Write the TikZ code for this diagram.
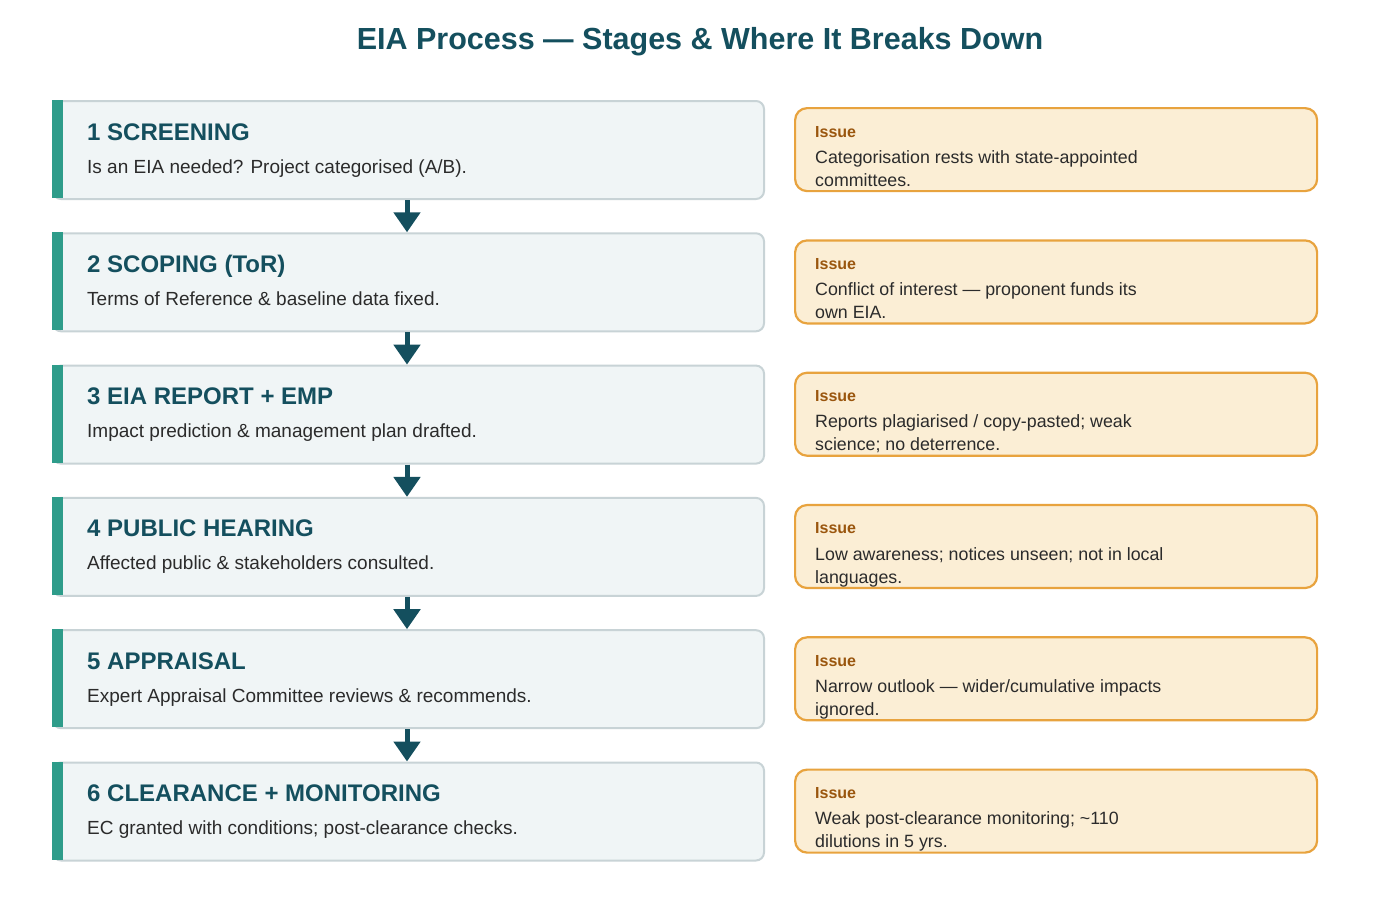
\documentclass[tikz,border=0pt]{standalone}
\usepackage{fontspec}
\setmainfont{Liberation Sans}
\usetikzlibrary{arrows.meta}
\definecolor{teal}{HTML}{144F5E}
\definecolor{bar}{HTML}{2E9C8A}
\definecolor{sfill}{HTML}{F0F5F6}
\definecolor{sbord}{HTML}{C8D3D6}
\definecolor{ifill}{HTML}{FBEED5}
\definecolor{ibord}{HTML}{E8A33E}
\definecolor{ilab}{HTML}{9A560E}
\definecolor{txt}{HTML}{2B2B2B}
\tikzset{
 stage/.style={draw=sbord,line width=2pt,fill=sfill,rounded corners=8pt,minimum width=711pt,minimum height=98pt,anchor=north west,inner sep=0pt},
 issue/.style={draw=ibord,line width=2.2pt,fill=ifill,rounded corners=12pt,minimum width=522pt,minimum height=83pt,anchor=north west,inner sep=0pt},
 head/.style={anchor=base west,text=teal,font=\fontsize{24}{28}\selectfont\bfseries,inner sep=0pt},
 sub/.style={anchor=base west,text=txt,font=\fontsize{19}{22}\selectfont,inner sep=0pt},
 ilabel/.style={anchor=base west,text=ilab,font=\fontsize{16}{19}\selectfont\bfseries,inner sep=0pt},
 itext/.style={anchor=north west,text=txt,font=\fontsize{17.8}{23}\selectfont,inner sep=0pt,align=left},
 flow/.style={-{Triangle[length=20pt,width=26pt]},line width=5pt,draw=teal}
}
\newcommand\stagerow[5]{%
 \pgfmathsetmacro{\y}{100+132.3*(#1-1)}
 \node[stage] (s#1) at (52,\y) {};
 \fill[bar] (52,\y) rectangle (63,\y+98);
 \node[head] (h#1) at (87,\y+40) {#2};
 \node[sub] (d#1) at (87,\y+73) {#3};
 \node[issue] (is#1) at (794,\y+7) {};
 \node[ilabel] (l#1) at (815,\y+37) {Issue};
 \node[itext] (t#1) at (815,\y+50) {#4\\#5};
}
\begin{document}
\begin{tikzpicture}[x=1pt,y=-1pt]
\useasboundingbox[fill=white] (0,0) rectangle (1400,916);
\node[text=teal,font=\fontsize{30.5}{34}\selectfont\bfseries] (title) at (700,42) {EIA Process — Stages \& Where It Breaks Down};
\stagerow{1}{1 SCREENING}{Is an EIA needed? Project categorised (A/B).}{Categorisation rests with state-appointed}{committees.}
\stagerow{2}{2 SCOPING (ToR)}{Terms of Reference \& baseline data fixed.}{Conflict of interest — proponent funds its}{own EIA.}
\stagerow{3}{3 EIA REPORT + EMP}{Impact prediction \& management plan drafted.}{Reports plagiarised / copy-pasted; weak}{science; no deterrence.}
\stagerow{4}{4 PUBLIC HEARING}{Affected public \& stakeholders consulted.}{Low awareness; notices unseen; not in local}{languages.}
\stagerow{5}{5 APPRAISAL}{Expert Appraisal Committee reviews \& recommends.}{Narrow outlook — wider/cumulative impacts}{ignored.}
\stagerow{6}{6 CLEARANCE + MONITORING}{EC granted with conditions; post-clearance checks.}{Weak post-clearance monitoring; \textasciitilde110}{dilutions in 5 yrs.}
\foreach \a/\b in {1/2,2/3,3/4,4/5,5/6}{
 \draw[flow] (s\a.south -| 407,0) -- (s\b.north -| 407,0);
}
\end{tikzpicture}
\end{document}
